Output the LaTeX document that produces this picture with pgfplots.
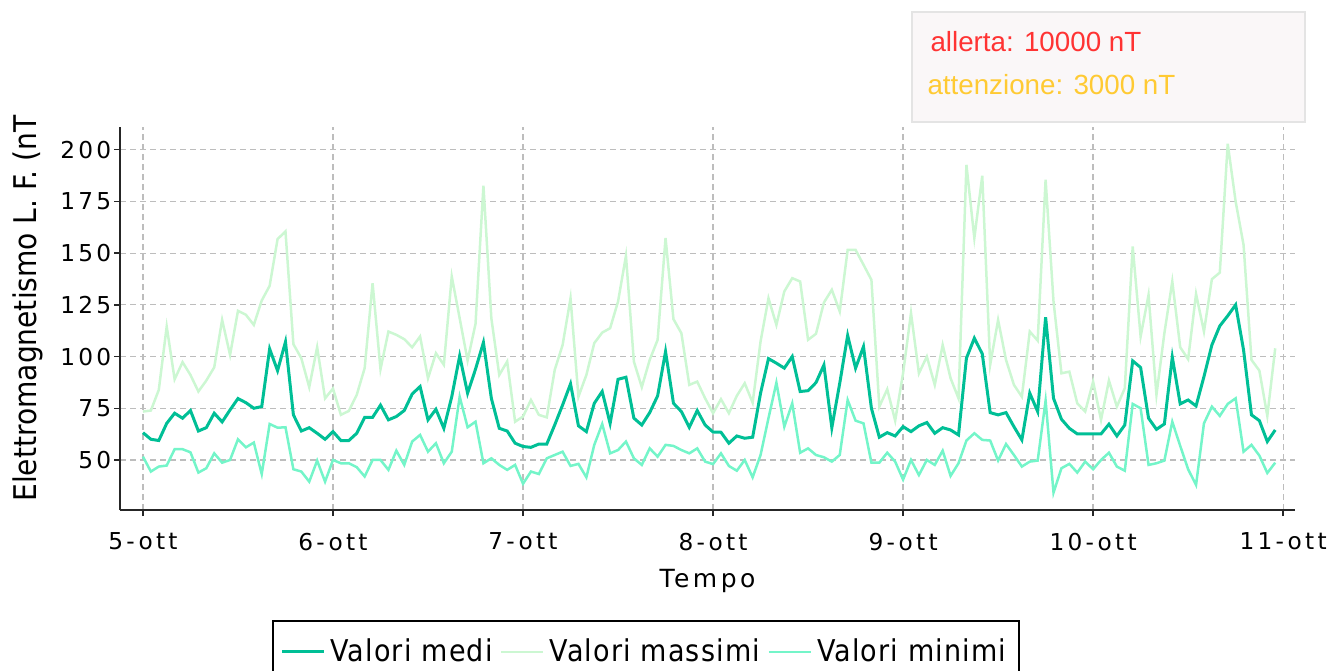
\documentclass[border=0pt]{standalone}
\usepackage{fontspec}
\setmainfont{DejaVu Sans}
\newfontfamily\tickfont[LetterSpace=14]{DejaVu Sans}
\newfontfamily\condfont{DejaVu Sans Condensed}
\newfontfamily\legfont[LetterSpace=4]{DejaVu Sans Condensed}
\newfontfamily\boxfont{Liberation Sans}
\usepackage{pgfplots}
\usepackage{pgfplotstable}
\pgfplotsset{compat=1.18}
\definecolor{medi}{HTML}{00BF96}
\definecolor{massimi}{HTML}{CCF7D2}
\definecolor{minimi}{HTML}{74F5C9}
\definecolor{griglia}{HTML}{BDBDBD}
\definecolor{allerta}{HTML}{FF3333}
\definecolor{attenzione}{HTML}{FFCA33}

% h = ore dal 5-ott 00:00; me = medi, ma = massimi, mi = minimi
\pgfplotstableread{
h me ma mi
0 63.2 73.4 51.6
1 60.0 73.9 44.4
2 59.4 83.9 46.8
3 67.7 114.5 47.3
4 72.6 89.0 55.2
5 70.2 97.3 55.2
6 73.9 91.1 53.7
7 64.0 83.1 43.9
8 65.6 88.4 46.0
9 72.6 94.8 53.2
10 68.4 117.7 48.7
11 74.2 100.8 50.0
12 79.7 122.1 60.0
13 77.7 120.2 56.1
14 75.0 115.3 58.4
15 75.8 127.1 43.2
16 103.7 134.2 67.4
17 93.2 156.8 65.6
18 107.1 160.5 65.8
19 71.8 106.0 45.5
20 64.0 99.2 44.4
21 65.6 85.2 39.5
22 62.9 104.5 49.7
23 60.0 79.8 39.5
24 63.7 84.5 50.0
25 59.4 71.8 48.4
26 59.4 73.7 48.4
27 62.9 81.5 46.5
28 70.6 94.4 42.0
29 70.6 135.5 50.0
30 76.5 93.9 50.0
31 69.4 112.1 45.2
32 71.0 110.5 54.5
33 73.9 108.4 47.6
34 81.9 104.5 58.9
35 85.5 109.7 62.1
36 69.4 89.5 54.0
37 74.5 101.6 58.1
38 65.3 96.0 48.4
39 80.6 138.7 54.0
40 100.3 118.5 80.6
41 82.3 98.1 65.8
42 93.9 115.8 68.5
43 106.8 182.6 48.4
44 79.8 118.5 50.8
45 65.3 91.1 47.6
46 64.0 97.6 45.2
47 58.1 68.5 47.6
48 56.5 71.0 38.5
49 56.1 79.0 44.4
50 57.7 71.8 43.2
51 57.7 70.6 50.8
52 66.9 93.5 52.4
53 76.6 105.6 54.0
54 86.8 128.2 47.1
55 66.5 80.6 48.1
56 63.7 91.1 41.6
57 77.4 106.5 57.3
58 83.1 111.6 67.4
59 67.7 113.7 53.2
60 89.0 126.6 54.8
61 90.0 148.7 58.9
62 70.2 97.6 50.8
63 66.9 85.2 47.6
64 72.9 98.4 55.6
65 81.0 108.1 51.6
66 102.4 157.3 57.3
67 77.4 118.1 56.8
68 73.4 111.3 54.8
69 65.8 86.3 53.2
70 73.9 87.9 55.6
71 66.9 79.8 49.2
72 63.5 72.6 48.0
73 63.4 79.4 53.2
74 58.1 72.6 47.1
75 61.6 81.0 44.8
76 60.5 87.1 50.0
77 61.0 77.7 41.6
78 82.3 107.3 52.4
79 99.0 128.2 70.2
80 96.8 115.3 87.4
81 94.4 131.5 66.1
82 100.0 137.9 77.4
83 83.1 136.3 53.5
84 83.5 108.1 55.6
85 87.4 111.0 52.4
86 95.9 126.1 51.3
87 65.6 132.3 49.2
88 87.1 121.8 52.4
89 110.2 151.6 79.0
90 94.4 151.6 69.0
91 104.8 144.4 67.7
92 75.0 137.1 48.7
93 61.0 75.8 48.7
94 63.2 84.2 53.5
95 61.6 69.0 49.2
96 66.1 91.9 40.5
97 63.7 121.0 50.0
98 66.5 91.9 42.7
99 68.1 100.0 50.0
100 62.9 86.3 47.6
101 65.6 105.6 54.5
102 64.5 89.5 42.3
103 62.1 79.8 48.4
104 99.2 192.7 59.4
105 108.9 157.3 62.9
106 101.3 187.4 59.7
107 72.9 96.0 59.4
108 71.8 117.7 49.7
109 72.9 98.4 57.7
110 66.1 86.3 52.4
111 59.7 80.6 46.8
112 82.3 112.1 49.2
113 73.4 107.7 49.7
114 119.0 185.5 78.7
115 79.8 126.6 34.2
116 69.7 91.9 46.0
117 65.3 92.7 48.1
118 62.6 77.4 43.9
119 62.6 73.4 49.2
120 62.6 87.9 45.5
121 62.6 69.4 50.0
122 67.3 88.4 53.5
123 61.6 75.8 46.8
124 66.9 84.7 44.8
125 97.9 153.2 77.1
126 94.7 109.7 75.0
127 70.2 129.8 47.6
128 64.8 81.5 48.4
129 67.4 111.3 49.7
130 99.7 136.3 68.5
131 77.1 104.5 56.8
132 79.0 98.7 45.5
133 76.1 130.3 37.9
134 90.3 112.1 67.7
135 105.6 137.4 75.8
136 114.8 140.6 71.3
137 119.7 202.9 77.1
138 125.0 175.0 79.8
139 103.2 154.0 54.0
140 71.8 98.4 57.3
141 69.0 93.2 52.1
142 58.9 71.3 43.7
143 64.5 104.0 48.7
}\dati

\begin{document}
\begin{tikzpicture}
  \begin{axis}[
    at={(48pt,64pt)}, anchor=south west,
    scale only axis, width=470pt, height=153.2pt,
    xmin=-2.9, xmax=145.5, ymin=25.8, ymax=211,
    axis x line*=bottom, axis y line*=left,
    axis line style={-, line width=0.6pt, black!85},
    xtick={0,24,48,72,96,120,144},
    xticklabels={5-ott,6-ott,7-ott,8-ott,9-ott,10-ott,11-ott},
    ytick={50,75,...,200},
    tick align=outside, major tick length=2.4pt,
    tick style={line width=0.6pt, black!85},
    grid=major,
    grid style={line width=0.5pt, griglia, dash pattern=on 2.4pt off 1.6pt},
    /pgf/number format/assume math mode=true,
    tick label style={font=\tickfont\fontsize{9.3}{11}\selectfont},
    yticklabel style={anchor=east, xshift=2.4pt},
    xticklabel style={anchor=north, yshift=-3.2pt},
    xlabel={Tempo},
    ylabel={Elettromagnetismo L. F. (nT},
    xlabel style={font=\tickfont\fontsize{10}{12}\selectfont,
      at={(axis description cs:0.5,-0.185)}, anchor=center},
    ylabel style={font=\condfont\fontsize{12.5}{14}\selectfont,
      at={(axis description cs:-0.0783,0.526)}, anchor=center},
    legend style={at={(axis description cs:0.1294,-0.2872)}, anchor=north west,
      draw=black, line width=0.8pt, inner xsep=3pt, inner ysep=5pt,
      font=\legfont\fontsize{12}{14}\selectfont,
      /tikz/every even column/.append style={column sep=1pt}},
    legend columns=3,
    legend image code/.code={\draw[#1] (0pt,0pt) -- (16.8pt,0pt);},
  ]
    \addplot[medi, line width=1.2pt] table[x=h, y=me]{\dati};
    \addlegendentry{Valori medi}
    \addplot[massimi, line width=1pt] table[x=h, y=ma]{\dati};
    \addlegendentry{Valori massimi}
    \addplot[minimi, line width=1pt] table[x=h, y=mi]{\dati};
    \addlegendentry{Valori minimi}
  \end{axis}

  \draw[fill={rgb,255:red,250;green,247;blue,248}, draw={rgb,255:red,228;green,228;blue,228}, line width=0.8pt]
    (364.8pt,219.2pt) rectangle (522pt,263.2pt);
  \node[anchor=base west, inner sep=0pt, text=allerta, font=\boxfont\fontsize{11.1}{13}\selectfont]
    at (372pt,247.2pt) {allerta: 10000 nT};
  \node[anchor=base west, inner sep=0pt, text=attenzione, font=\boxfont\fontsize{11.1}{13}\selectfont]
    at (370.8pt,230pt) {attenzione: 3000 nT};

  \pgfresetboundingbox
  \useasboundingbox (0pt,0pt) rectangle (534pt,268pt);
\end{tikzpicture}
\end{document}
